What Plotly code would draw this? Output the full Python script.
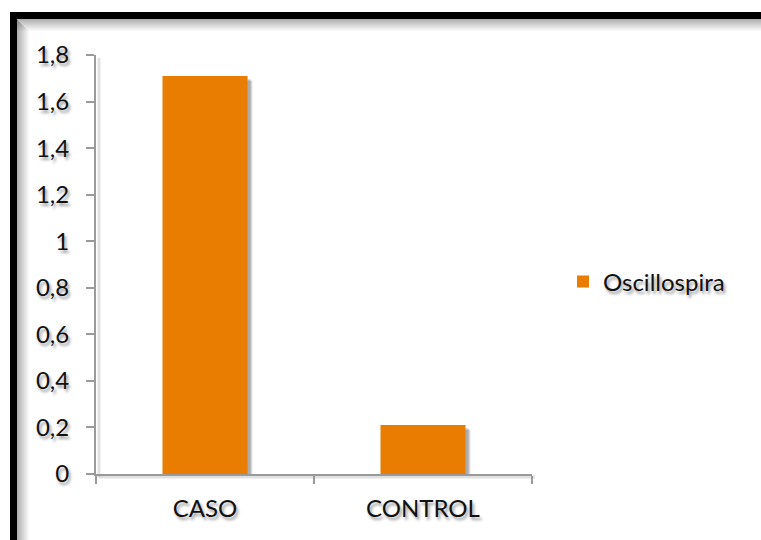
import plotly.graph_objects as go

# Data
categories = ["CASO", "CONTROL"]
values = [1.71, 0.21]
series_name = "Oscillospira"
y_ticks = [0, 0.2, 0.4, 0.6, 0.8, 1.0, 1.2, 1.4, 1.6, 1.8]
y_tick_labels = ["0", "0,2", "0,4", "0,6", "0,8", "1", "1,2", "1,4", "1,6", "1,8"]

# Canvas and plot-area geometry (pixels)
W, H = 761, 540
L, R, T, B = 96, 532, 55, 474
BAR_FRAC = 0.39

ORANGE = "#E87D01"
AXIS = "#9a9a9a"
FONT = "Lato, sans-serif"
TXT_SHADOW = "2px 3px 3px rgba(0,0,0,0.38)"


def px_x(px):
    return (px - L) / (R - L)


def px_y(py):
    return (B - py) / (B - T)


x_unit = (R - L) / len(categories)          # px per category
y_unit = (B - T) / (y_ticks[-1] - y_ticks[0])  # px per value unit

fig = go.Figure()
fig.add_trace(go.Bar(
    x=categories, y=values, name=series_name,
    marker=dict(color=ORANGE, line=dict(width=0)),
    showlegend=True,
))

shapes = []

# soft drop shadow behind each bar
for i, v in enumerate(values):
    for k, op in enumerate([0.10, 0.12, 0.14]):
        d = 5 - k
        shapes.append(dict(
            type="rect", xref="x", yref="y", layer="below",
            x0=i - BAR_FRAC / 2 + d / x_unit, x1=i + BAR_FRAC / 2 + d / x_unit,
            y0=-d / y_unit, y1=v - d / y_unit,
            fillcolor=f"rgba(0,0,0,{op})", line=dict(width=0),
        ))

# faint shadow along the axis lines
shapes.append(dict(type="line", xref="paper", yref="paper", layer="below",
                   x0=px_x(L + 3), x1=px_x(L + 3), y0=px_y(T + 3), y1=px_y(B + 3),
                   line=dict(color="rgba(0,0,0,0.12)", width=3)))
shapes.append(dict(type="line", xref="paper", yref="paper", layer="below",
                   x0=px_x(L + 3), x1=px_x(R + 3), y0=px_y(B + 3), y1=px_y(B + 3),
                   line=dict(color="rgba(0,0,0,0.12)", width=3)))

# outer frame: thick black edges on top and left with an inner gradient shadow
FR_X0, FR_Y0, FR_W = 10, 12, 7
for s in range(12):
    op = 0.45 * (1 - s / 12)
    shapes.append(dict(type="rect", xref="paper", yref="paper", layer="above",
                       x0=px_x(FR_X0 + FR_W), x1=px_x(W + 50),
                       y0=px_y(FR_Y0 + FR_W + s), y1=px_y(FR_Y0 + FR_W + s + 1),
                       fillcolor=f"rgba(80,80,80,{op:.3f})", line=dict(width=0)))
    shapes.append(dict(type="rect", xref="paper", yref="paper", layer="above",
                       x0=px_x(FR_X0 + FR_W + s), x1=px_x(FR_X0 + FR_W + s + 1),
                       y0=px_y(FR_Y0 + FR_W + s + 1), y1=px_y(H + 50),
                       fillcolor=f"rgba(80,80,80,{op:.3f})", line=dict(width=0)))
shapes.append(dict(type="rect", xref="paper", yref="paper", layer="above",
                   x0=px_x(FR_X0), x1=px_x(W + 50),
                   y0=px_y(FR_Y0), y1=px_y(FR_Y0 + FR_W),
                   fillcolor="black", line=dict(width=0)))
shapes.append(dict(type="rect", xref="paper", yref="paper", layer="above",
                   x0=px_x(FR_X0), x1=px_x(FR_X0 + FR_W),
                   y0=px_y(FR_Y0), y1=px_y(H + 50),
                   fillcolor="black", line=dict(width=0)))

tick_font = dict(family=FONT, size=24, color="#111111", shadow=TXT_SHADOW)

fig.update_layout(
    width=W, height=H,
    margin=dict(l=L, r=W - R, t=T, b=H - B, pad=0),
    paper_bgcolor="white", plot_bgcolor="white",
    bargap=1 - BAR_FRAC,
    separators=",.",
    shapes=shapes,
    showlegend=True,
    legend=dict(
        x=px_x(563), y=px_y(282), xanchor="left", yanchor="middle",
        font=dict(family=FONT, size=24, color="#111111", shadow=TXT_SHADOW),
        itemwidth=30, bgcolor="rgba(0,0,0,0)",
    ),
    xaxis=dict(
        type="category", range=[-0.5, len(categories) - 0.5],
        showline=True, linecolor=AXIS, linewidth=2,
        ticks="outside", ticklen=8, tickwidth=2, tickcolor=AXIS,
        tickson="boundaries", showgrid=False, zeroline=False,
        tickfont=tick_font, ticklabelstandoff=12,
    ),
    yaxis=dict(
        range=[y_ticks[0], y_ticks[-1]],
        tickvals=y_ticks, ticktext=y_tick_labels,
        showline=True, linecolor=AXIS, linewidth=2,
        ticks="outside", ticklen=8, tickwidth=2, tickcolor=AXIS,
        showgrid=False, zeroline=False,
        tickfont=tick_font, ticklabelstandoff=12,
    ),
)

fig.write_html("out.html")
